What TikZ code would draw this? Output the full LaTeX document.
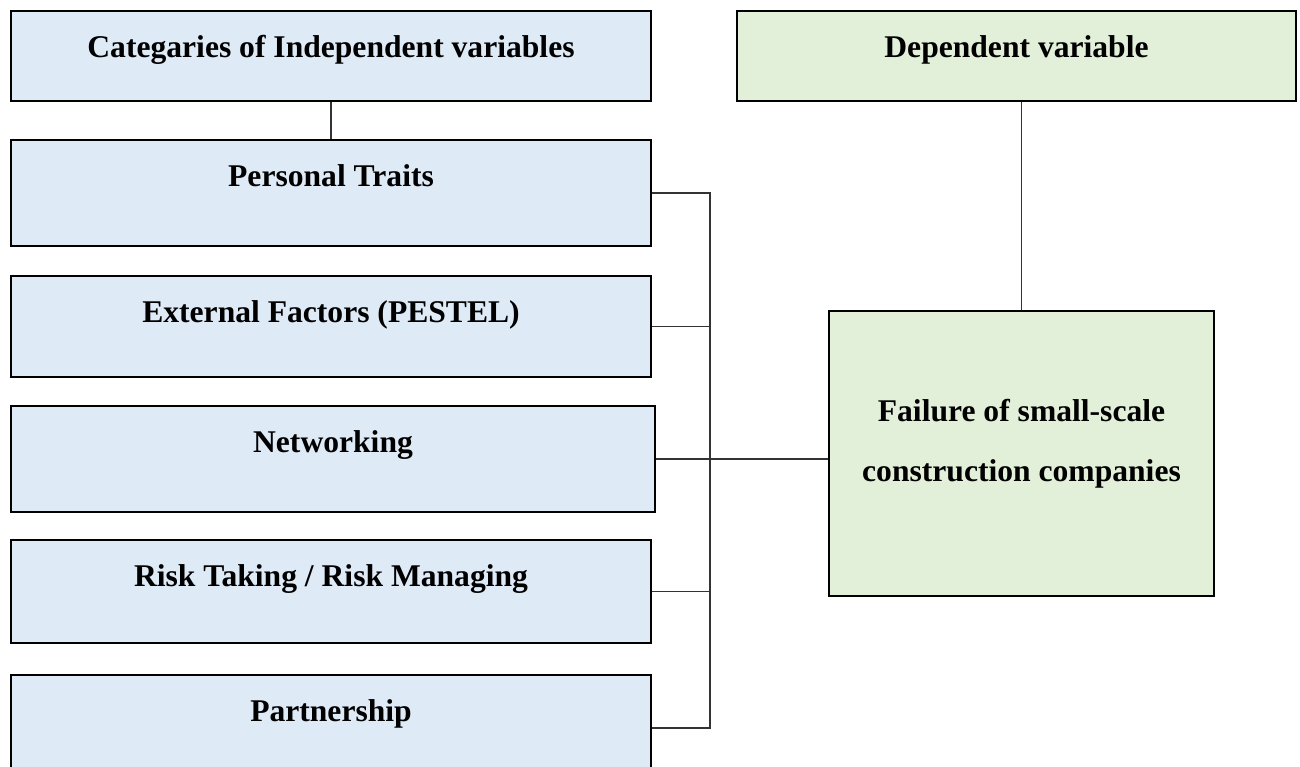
\documentclass[tikz,border=0pt]{standalone}
\usepackage{fontspec}
\setmainfont{Liberation Serif}
\usepackage{tikz}
\usetikzlibrary{positioning, calc}

\definecolor{indepblue}{HTML}{DEEAF6}
\definecolor{depgreen}{HTML}{E2EFD9}

\begin{document}
\begin{tikzpicture}[
        % Define styles for the nodes
        base_box/.style={draw=black, line width=1pt, inner sep=0pt, align=center,
            font=\bfseries\fontsize{15.8pt}{19pt}\selectfont, text height=23pt},
        indep_box/.style={base_box, fill=indepblue, minimum width=320pt, text depth=#1},
        dep_box/.style={base_box, fill=depgreen, text depth=#1},
        link/.style={line width=0.6pt, black!80}
    ]

    % Fix the margins of the page
    \useasboundingbox (0,0) rectangle (650pt,-383pt);

    % Column of independent variables (left edges kept in line)
    \node (cat) [indep_box=22pt, anchor=north west] at (5pt,-5pt) {Categaries of Independent variables};
    \node (traits) [indep_box=30pt, below=18.5pt of cat.south west, anchor=north west] {Personal Traits};
    \node (pestel) [indep_box=27.5pt, below=14pt of traits.south west, anchor=north west] {External Factors (PESTEL)};
    \node (network) [indep_box=30pt, minimum width=322pt, below=13.5pt of pestel.south west, anchor=north west] {Networking};
    \node (risk) [indep_box=28.5pt, below=13pt of network.south west, anchor=north west] {Risk Taking / Risk Managing};
    \node (partner) [indep_box=30pt, below=15pt of risk.south west, anchor=north west] {Partnership};

    % Dependent variable column
    \node (dep) [dep_box=22pt, minimum width=279.5pt, anchor=north west] at (368pt,-5pt) {Dependent variable};
    \node (failure) [dep_box=57.5pt, minimum width=192.5pt, text height=85pt, anchor=north west] at (414pt,-155pt)
        {Failure of small-scale\\[11pt] construction companies};

    % Header links
    \draw [link] (cat.south) -- (traits.north);
    \draw [link] (failure.north) -- (failure.north |- dep.south);

    % Bus joining the independent variables
    \coordinate (bus) at ($(traits.east)+(29pt,0)$);
    \draw [link] (traits.east) -- (bus) -- (bus |- partner.east) -- (partner.east);
    \draw [link] (pestel.east) -- (pestel.east -| bus);
    \draw [link] (network.east) -- (failure.west |- network.east);
    \draw [link] (risk.east) -- (risk.east -| bus);

\end{tikzpicture}
\end{document}
